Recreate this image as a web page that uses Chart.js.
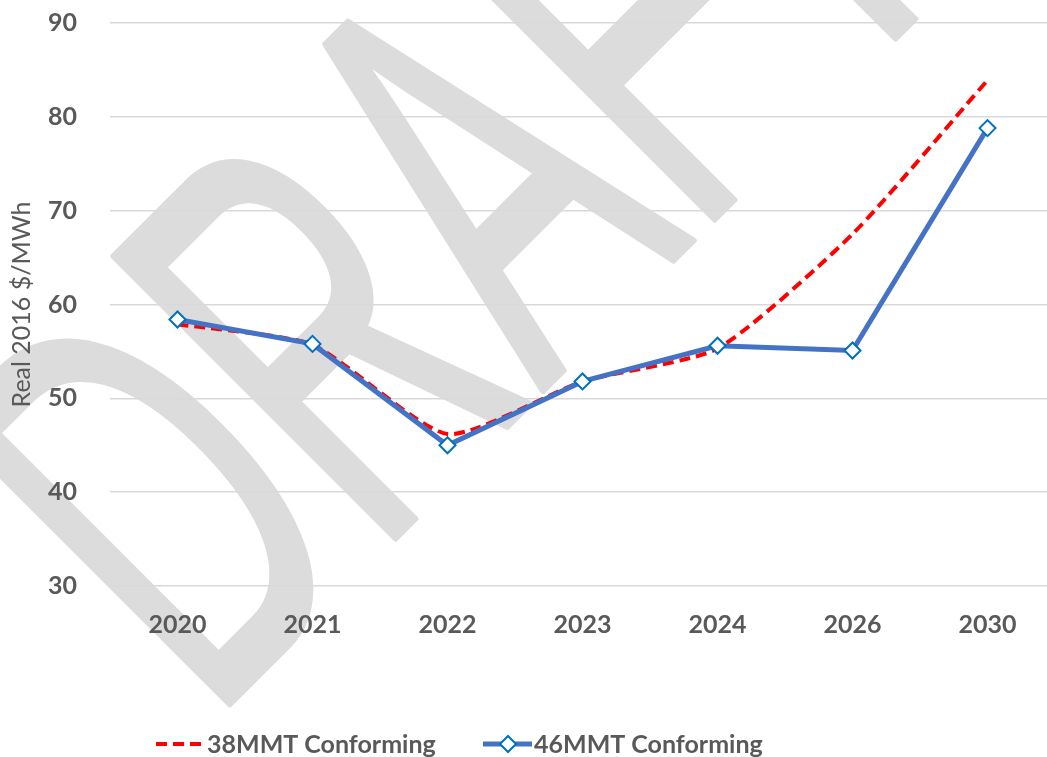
<!DOCTYPE html>
<html>
<head>
<meta charset="utf-8">
<script src="https://cdn.jsdelivr.net/npm/chart.js@4.4.1/dist/chart.umd.min.js"></script>
<style>
  html, body { margin: 0; padding: 0; background: #fff; overflow: hidden; }
  #wrap { position: absolute; left: 0; top: 0; width: 1065px; height: 757px; }
</style>
</head>
<body>
<div id="wrap"><canvas id="chart"></canvas></div>
<script>
// chart data
const years = ["2020", "2021", "2022", "2023", "2024", "2026", "2030"];
const mmt38 = [57.9, 55.7, 46.2, 51.8, 55.3, 67.5, 83.9];
const mmt46 = [58.4, 55.8, 45.0, 51.8, 55.6, 55.1, 78.8];
const seriesNames = ["38MMT Conforming", "46MMT Conforming"];
const yTicks = { min: 30, max: 90, step: 10 };

const textGray = "#595959";
const fontFam = "Lato, 'Open Sans', sans-serif";
const red = "#ff0000";
const blue = "#4472c4";
const markerBlue = "#0070c0";

// DRAFT watermark, drawn under the grid
const watermark = {
    id: "watermark",
    beforeDraw(chart) {
        const ctx = chart.ctx;
        ctx.save();
        ctx.translate(210, 724);
        ctx.rotate(-Math.PI / 4);
        ctx.scale(0.56, 1);
        ctx.font = "580px 'Liberation Sans', sans-serif";
        ctx.fillStyle = "#dcdcdc";
        ctx.strokeStyle = "#dcdcdc";
        ctx.lineWidth = 6;
        ctx.lineJoin = "round";
        ctx.textBaseline = "alphabetic";
        ctx.fillText("DRAFT", 0, 0);
        ctx.strokeText("DRAFT", 0, 0);
        ctx.restore();
    }
};

// legend under the x axis (line samples + names)
const bottomLegend = {
    id: "bottomLegend",
    afterDraw(chart) {
        const ctx = chart.ctx;
        const y = 744;
        ctx.save();
        // 38MMT: dashed red
        ctx.strokeStyle = red;
        ctx.lineWidth = 4;
        ctx.setLineDash([11, 6]);
        ctx.beginPath(); ctx.moveTo(156, y); ctx.lineTo(201, y); ctx.stroke();
        ctx.setLineDash([]);
        // 46MMT: blue line with diamond
        ctx.strokeStyle = blue;
        ctx.lineWidth = 5;
        ctx.beginPath(); ctx.moveTo(483, y); ctx.lineTo(532, y); ctx.stroke();
        ctx.fillStyle = "#fff";
        ctx.strokeStyle = markerBlue;
        ctx.lineWidth = 2;
        ctx.beginPath();
        ctx.moveTo(508, y - 8); ctx.lineTo(516, y); ctx.lineTo(508, y + 8); ctx.lineTo(500, y);
        ctx.closePath(); ctx.fill(); ctx.stroke();
        // names
        ctx.fillStyle = textGray;
        ctx.font = "bold 25px " + fontFam;
        ctx.textBaseline = "middle";
        ctx.textAlign = "left";
        ctx.fillText(seriesNames[0], 207, y + 1);
        ctx.fillText(seriesNames[1], 534, y + 1);
        ctx.restore();
    }
};

new Chart(document.getElementById("chart"), {
    type: "line",
    data: {
        labels: years,
        datasets: [{
            label: seriesNames[0],
            data: mmt38,
            borderColor: red,
            borderWidth: 4,
            borderDash: [11, 6],
            tension: 0.2,
            pointRadius: 0,
            fill: false,
            order: 2
        }, {
            label: seriesNames[1],
            data: mmt46,
            borderColor: blue,
            borderWidth: 5,
            tension: 0,
            pointStyle: "rectRot",
            pointRadius: 8,
            pointBorderWidth: 2,
            pointBackgroundColor: "#ffffff",
            pointBorderColor: markerBlue,
            fill: false,
            order: 1
        }]
    },
    options: {
        responsive: true,
        maintainAspectRatio: false,
        animation: false,
        layout: { padding: { left: 7, right: 0, top: 23, bottom: 101 } },
        plugins: {
            tooltip: { enabled: false },
            legend: { display: false }
        },
        scales: {
            x: {
                offset: true,
                grid: { display: false },
                border: { display: false },
                ticks: {
                    color: textGray,
                    font: { family: fontFam, size: 25, weight: "bold" },
                    padding: 16
                }
            },
            y: {
                min: yTicks.min,
                max: yTicks.max,
                grid: { color: "#d9d9d9", lineWidth: 1.5, drawTicks: false },
                border: { display: false },
                ticks: {
                    stepSize: yTicks.step,
                    color: textGray,
                    font: { family: fontFam, size: 25, weight: "bold" },
                    padding: 33
                },
                title: {
                    display: true,
                    text: "Real 2016 $/MWh",
                    color: textGray,
                    font: { family: fontFam, size: 25, weight: "normal" },
                    padding: { top: 0, bottom: 10 }
                },
                afterFit(scale) {
                    // tick padding should only push labels sideways
                    scale.width = 103;
                    scale.paddingTop = 0;
                    scale.paddingBottom = 0;
                }
            }
        }
    },
    plugins: [watermark, bottomLegend]
});
</script>
</body>
</html>
